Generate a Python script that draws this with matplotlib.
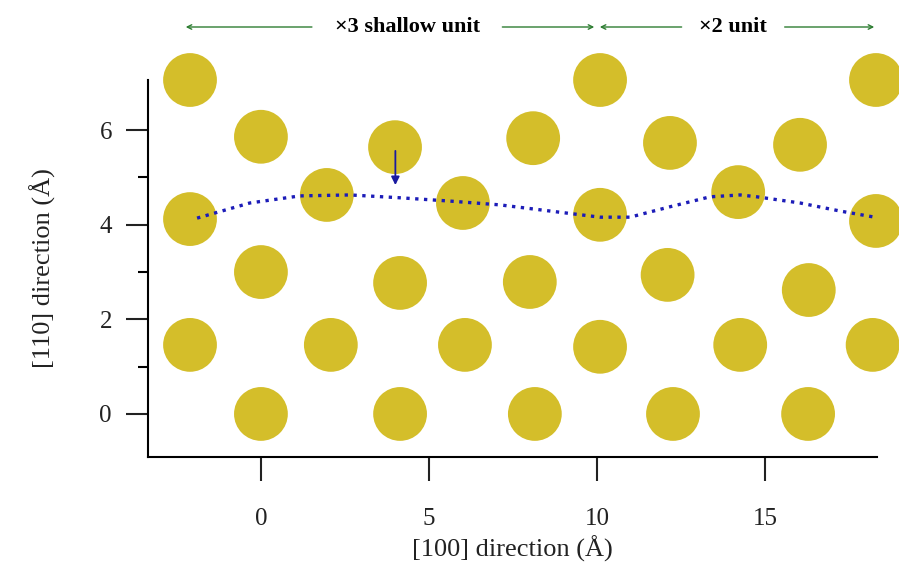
import matplotlib.pyplot as plt
from matplotlib.transforms import blended_transform_factory

# Atom positions (x along [100], y along [110], in Angstrom)
atom_x = [-2.11, 10.09, 18.3,
          0.0, 3.99, 8.1, 12.17, 16.04,
          -2.11, 1.96, 6.01, 10.09, 14.2, 18.3,
          0.0, 4.14, 8.0, 12.1, 16.3,
          -2.11, 2.08, 6.07, 10.09, 14.26, 18.2,
          0.0, 4.14, 8.15, 12.26, 16.28]
atom_y = [7.06, 7.06, 7.06,
          5.86, 5.64, 5.83, 5.73, 5.69,
          4.12, 4.63, 4.46, 4.21, 4.69, 4.08,
          3.0, 2.77, 2.79, 2.94, 2.62,
          1.46, 1.46, 1.46, 1.42, 1.46, 1.46,
          0.0, 0.0, 0.0, 0.0, 0.0]

# Dotted guide line through the middle row
line_x = [-1.9, -0.33, 1.16, 2.65, 4.14, 5.63, 7.11, 8.6, 10.09, 10.98,
          12.17, 13.36, 14.26, 14.76, 16.04, 17.23, 18.42]
line_y = [4.14, 4.46, 4.61, 4.63, 4.57, 4.50, 4.42, 4.29, 4.16, 4.16,
          4.38, 4.59, 4.63, 4.59, 4.46, 4.29, 4.14]

x_ticks = [0, 5, 10, 15]
y_ticks = [0, 2, 4, 6]

# Unit brackets along the top
unit_edges = [-2.32, 10.0, 18.33]
unit_labels = ['×3 shallow unit', '×2 unit']
unit_text_x = [4.35, 14.05]
unit_text_half = [2.45, 1.15]

plt.rcParams['font.family'] = ['Liberation Serif', 'DejaVu Serif']

fig = plt.figure(figsize=(8.99, 5.75), dpi=100)
ax = fig.add_axes([148/899, 1-457/575, 729/899, 377/575])

ax.scatter(atom_x, atom_y, s=1500, color='#d4be2a', edgecolors='none',
           clip_on=False, zorder=2)
ax.plot(line_x, line_y, linestyle=':', color='#1c1cb8', linewidth=2.4, zorder=3)
ax.annotate('', xy=(4.0, 4.78), xytext=(4.0, 5.62),
            arrowprops=dict(arrowstyle='-|>', color='#1a1aa0', lw=1.3,
                            mutation_scale=12), zorder=4)

ax.set_xlim(-3.36, 18.33)
ax.set_ylim(-0.91, 7.06)
ax.set_xticks(x_ticks)
ax.set_yticks(y_ticks)
ax.set_yticks([1, 3, 5], minor=True)
ax.spines['top'].set_visible(False)
ax.spines['right'].set_visible(False)
for s in ['left', 'bottom']:
    ax.spines[s].set_linewidth(1.5)
ax.tick_params(axis='x', which='major', length=17, width=1.5, pad=20, labelsize=18, colors='#222222')
ax.tick_params(axis='y', which='major', length=16, width=1.5, pad=10, labelsize=18, colors='#222222')
ax.tick_params(axis='y', which='minor', length=7, width=1.5)
ax.set_xlabel('[100] direction (Å)', fontsize=19, color='#222222', labelpad=4)
ax.set_ylabel('[110] direction (Å)', fontsize=19, color='#222222', labelpad=31)

# Green double-headed unit markers above the plot
tr = blended_transform_factory(ax.transData, fig.transFigure)
ytop = 1 - 27/575
green = '#2e7d32'
for i, lab in enumerate(unit_labels):
    x0, x1 = unit_edges[i], unit_edges[i+1]
    xc, hw = unit_text_x[i], unit_text_half[i]
    ax.annotate('', xy=(x0, ytop), xytext=(xc - hw - 0.3, ytop), xycoords=tr,
                textcoords=tr, arrowprops=dict(arrowstyle='->', color=green, lw=1,
                                               mutation_scale=8), annotation_clip=False)
    ax.annotate('', xy=(x1, ytop), xytext=(xc + hw + 0.3, ytop), xycoords=tr,
                textcoords=tr, arrowprops=dict(arrowstyle='->', color=green, lw=1,
                                               mutation_scale=8), annotation_clip=False)
    ax.text(xc, ytop, lab, transform=tr, ha='center', va='center',
            fontsize=16, fontweight='bold', color='black')

fig.savefig('out.png', dpi=100)
